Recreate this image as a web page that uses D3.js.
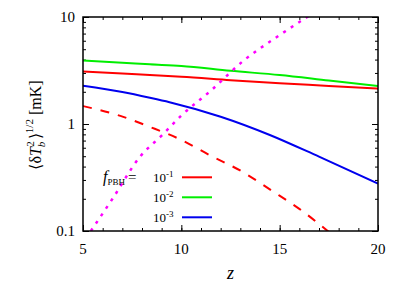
<!DOCTYPE html>
<html>
<head>
<meta charset="utf-8">
<script src="https://cdn.jsdelivr.net/npm/d3@7"></script>
</head>
<body style="margin:0">
<script>
// data
const zRed = [5, 7, 8.4, 10, 12.5, 15, 17.5, 20];
const redSolid = [3.10, 2.97, 2.87, 2.77, 2.57, 2.40, 2.27, 2.14];

const zGreen = [5, 7, 8.4, 10, 12.5, 15, 17.5, 20];
const greenSolid = [3.92, 3.74, 3.61, 3.48, 3.14, 2.87, 2.55, 2.27];

const zBlue = [5, 7, 8.4, 9.4, 12, 14.5, 17, 20];
const blueSolid = [2.28, 1.99, 1.76, 1.60, 1.17, 0.79, 0.495, 0.278];

const zRedDash = [5, 6.9, 8.4, 10, 11.5, 13.1, 14.6, 16, 17.5];
const redDashed = [1.47, 1.19, 0.94, 0.71, 0.505, 0.358, 0.238, 0.161, 0.098];

const zMagenta = [5.4, 6.5, 7.9, 9, 10, 11.5, 13.2, 14.8, 16.4, 17];
const magentaDotted = [0.1, 0.2, 0.495, 0.78, 1.2, 2.05, 3.96, 6.4, 10, 11.7];

const xMajor = [5, 10, 15, 20];
const yMajor = [0.1, 1, 10];
const legendLabels = ["-1", "-2", "-3"];
const legendColors = ["#ff0000", "#00ee00", "#0000ee"];

const fontName = "Liberation Serif";
const svg = d3.select("body").append("svg").attr("width", 409).attr("height", 286)
  .attr("font-family", fontName);

const x = d3.scaleLinear().domain([5, 20]).range([83, 378]);
const y = d3.scaleLog().domain([0.1, 10]).range([231, 17]);

const xMinor = d3.range(5, 21, 1);
const yMinor = [];
[0.1, 1].forEach(d => { for (let k = 2; k <= 9; k++) yMinor.push(d * k); });

// inward tick marks from d3 axes, their own labels dropped
function ticksOnly(g) {
  g.attr("font-family", fontName);
  g.select(".domain").remove();
  g.selectAll("text").remove();
  g.selectAll("line").attr("stroke", "#000").attr("stroke-width", 1);
}
const axes = [
  [d3.axisBottom(x).tickValues(xMinor).tickSize(-3), 0, 231],
  [d3.axisBottom(x).tickValues(xMajor).tickSize(-6), 0, 231],
  [d3.axisTop(x).tickValues(xMinor).tickSize(-3), 0, 17],
  [d3.axisTop(x).tickValues(xMajor).tickSize(-6), 0, 17],
  [d3.axisLeft(y).tickValues(yMinor).tickSize(-3), 83, 0],
  [d3.axisLeft(y).tickValues(yMajor).tickSize(-6), 83, 0],
  [d3.axisRight(y).tickValues(yMinor).tickSize(-3), 378, 0],
  [d3.axisRight(y).tickValues(yMajor).tickSize(-6), 378, 0]
];
axes.forEach(([ax, tx, ty]) => {
  svg.append("g").attr("transform", `translate(${tx},${ty})`).call(ax).call(ticksOnly);
});

function addText(px, py, str, size, anchor) {
  return svg.append("text").attr("x", px).attr("y", py)
    .attr("text-anchor", anchor || "middle")
    .attr("font-family", fontName).attr("font-size", size)
    .style("font-family", fontName).style("font-size", size + "px")
    .text(str);
}
xMajor.forEach(d => addText(x(d), 254, String(d), 15));
yMajor.forEach(d => addText(75, y(d) + 5, d === 0.1 ? "0.1" : String(d), 15, "end"));

// curves
const line = d3.line().x(d => x(d[0])).y(d => y(d[1])).curve(d3.curveMonotoneX);
const series = [
  { z: zRed, v: redSolid, color: "#ff0000", dash: null, w: 2 },
  { z: zGreen, v: greenSolid, color: "#00ee00", dash: null, w: 2 },
  { z: zBlue, v: blueSolid, color: "#0000ee", dash: null, w: 2 },
  { z: zRedDash, v: redDashed, color: "#ff0000", dash: "9,9", w: 2 },
  { z: zMagenta, v: magentaDotted, color: "#ff00ff", dash: "3,6", w: 2.5 }
];
svg.append("clipPath").attr("id", "plotclip")
  .append("rect").attr("x", 83).attr("y", 17).attr("width", 295).attr("height", 214);
const plot = svg.append("g").attr("clip-path", "url(#plotclip)");
series.forEach(s => {
  plot.append("path")
    .datum(s.z.map((z, i) => [z, s.v[i]]))
    .attr("d", line)
    .attr("fill", "none")
    .attr("stroke", s.color)
    .attr("stroke-width", s.w)
    .attr("stroke-dasharray", s.dash);
});

// frame
svg.append("rect").attr("x", 83).attr("y", 17).attr("width", 295).attr("height", 214)
  .attr("fill", "none").attr("stroke", "#000").attr("stroke-width", 1.5);

// legend
legendLabels.forEach((lab, i) => {
  const yy = 182 + i * 20;
  const t = addText(153, yy, "", 13, "start");
  t.append("tspan").text("10");
  t.append("tspan").attr("dy", -5).style("font-size", "9px").text(lab);
  svg.append("line").attr("x1", 182).attr("x2", 212).attr("y1", yy - 4.7).attr("y2", yy - 4.7)
    .attr("stroke", legendColors[i]).attr("stroke-width", 2);
});
const fl = addText(103, 182, "", 16, "start");
fl.append("tspan").style("font-style", "italic").text("f");
fl.append("tspan").attr("dy", 3).style("font-size", "9px").text("PBH");
fl.append("tspan").attr("dy", -3).attr("dx", 3).style("font-size", "15px").text("=");

// x label
addText(230.5, 279, "z", 18).style("font-style", "italic");

// y label
const yl = addText(0, 0, "", 16).attr("transform", "translate(41,125) rotate(-90)");
yl.append("tspan").text("\u27E8\u03B4");
yl.append("tspan").style("font-style", "italic").text("T");
yl.append("tspan").attr("dy", 4).style("font-size", "11px").style("font-style", "italic").text("b");
yl.append("tspan").attr("dy", -11).attr("dx", -5).style("font-size", "11px").text("2");
yl.append("tspan").attr("dy", 7).attr("dx", 2).text("\u27E9");
yl.append("tspan").attr("dy", -8).style("font-size", "11px").text("1/2");
yl.append("tspan").attr("dy", 8).text(" [mK]");
</script>
</body>
</html>
